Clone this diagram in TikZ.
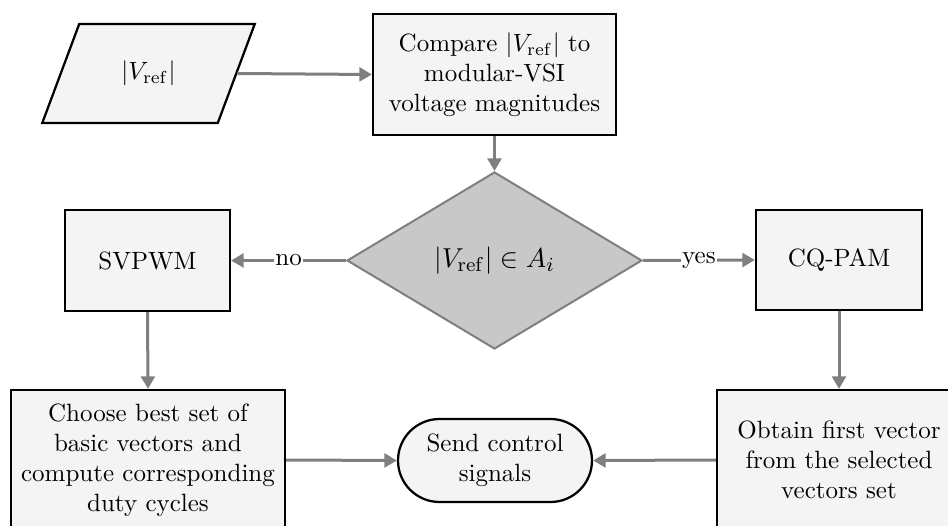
\documentclass[tikz,border=0pt]{standalone}
\usepackage{amssymb}
\usetikzlibrary{shapes.geometric,shapes.misc,arrows.meta}
\definecolor{boxfill}{HTML}{F4F4F4}
\definecolor{linegray}{HTML}{7F7F7F}
\definecolor{decfill}{HTML}{C8C8C8}

\begin{document}
\begin{tikzpicture}[x=0.4pt,y=-0.4pt,
    blk/.style={draw,line width=0.9pt,fill=boxfill,align=center,inner sep=2pt},
    flow/.style={draw=linegray,line width=1.2pt,-{Triangle[length=5pt,width=5.5pt]}}]
                \useasboundingbox(0,0)rectangle(948,526);
                \node[blk,trapezium,trapezium left angle=64,trapezium right angle=116,
                      trapezium stretches=true,minimum width=85.2pt,minimum height=39.6pt](vin)at(148.5,73.5){$|V_{\rm ref}|$};
                \node[blk,minimum width=97.2pt,minimum height=48.4pt](cmp)at(494.5,74.5){Compare $|V_{\rm ref}|$ to\\modular-VSI\\voltage magnitudes};
                \node[diamond,draw=linegray,line width=0.8pt,fill=decfill,inner sep=0pt,
                      minimum width=118pt,minimum height=70.8pt,font=\fontsize{11}{13}\selectfont](dec)at(494.5,260.5){$|V_{\rm ref}|\in A_i$};
                \node[blk,minimum width=66pt,minimum height=40.4pt](svpwm)at(147.5,260.5){SVPWM};
                \node[blk,minimum width=66.4pt,minimum height=40pt](cqpam)at(839,260){CQ-PAM};
                \node[blk,minimum width=109.6pt,minimum height=56pt](choose)at(148,460){Choose best set of\\basic vectors and\\compute corresponding\\duty cycles};
                \node[blk,minimum width=97.6pt,minimum height=56pt](obtain)at(839,460){Obtain first vector\\from the selected\\vectors set};
                \node[blk,rounded rectangle,minimum width=81.6pt,minimum height=33.2pt](send)at(495,460.5){Send control\\signals};
                \draw[flow](vin.east)--(cmp.west);
                \draw[flow](cmp.south)--(dec.north);
                \draw[flow](dec.west)--node[fill=white,inner sep=0.5pt]{no}(svpwm.east);
                \draw[flow](dec.east)--node[fill=white,inner sep=0.5pt]{yes}(cqpam.west);
                \draw[flow](svpwm.south)--(choose.north);
                \draw[flow](cqpam.south)--(obtain.north);
                \draw[flow](choose.east)--(send.west);
                \draw[flow](obtain.west)--(send.east);
            \end{tikzpicture}
\end{document}
